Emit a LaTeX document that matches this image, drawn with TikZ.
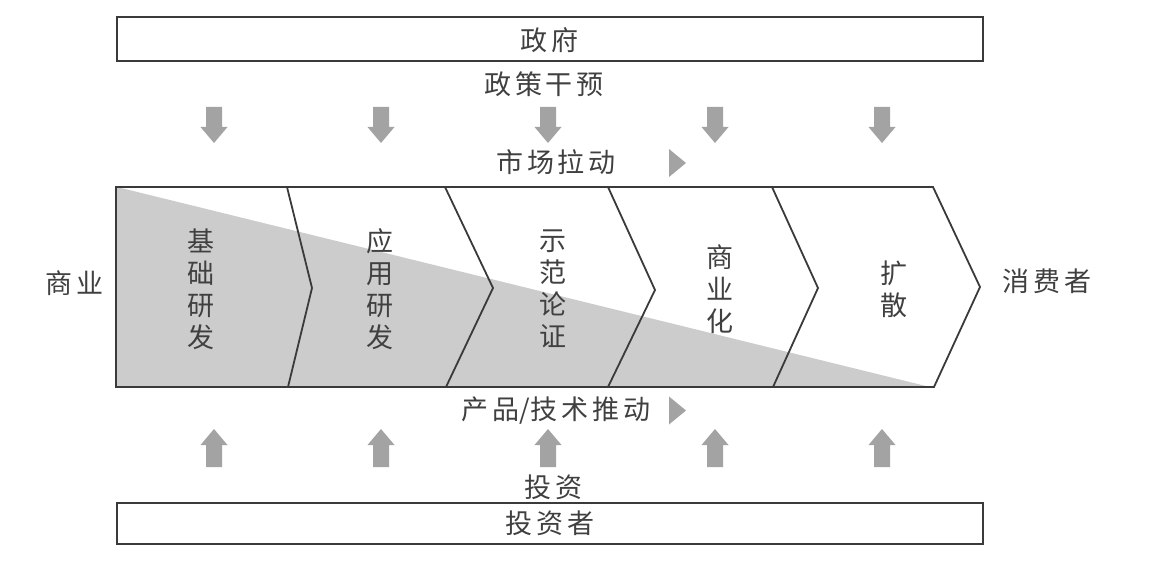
\documentclass[tikz,border=0pt]{standalone}
\usepackage{fontspec}
\newfontfamily\cjk{Noto Sans CJK SC}
\definecolor{txt}{HTML}{404040}
\definecolor{edge}{HTML}{3A3A3A}
\definecolor{shade}{HTML}{CCCCCC}
\definecolor{arr}{HTML}{A3A3A3}
\newcommand\cg{\hspace{4pt}}
\begin{document}
\begin{tikzpicture}[x=1pt,y=-1pt,
  lbl/.style={font=\cjk\fontsize{27}{32}\selectfont, text=txt, inner sep=0pt, anchor=center},
  vlbl/.style={lbl, align=center},
  bandbox/.style={draw=edge, line width=2pt},
  chevline/.style={draw=edge, line width=1.8pt, line join=miter},
  arrowshape/.style={fill=arr, draw=none},
  pics/downarrow/.style={code={
    \path[arrowshape] (-8,0) -- (8,0) -- (8,20) -- (13.5,20) -- (0,36) -- (-13.5,20) -- (-8,20) -- cycle;}},
  pics/uparrow/.style={code={
    \path[arrowshape] (-8,0) -- (8,0) -- (8,-22) -- (13.5,-22) -- (0,-38) -- (-13.5,-22) -- (-8,-22) -- cycle;}},
  pics/righttri/.style={code={
    \path[arrowshape] (0,-14) -- (17,0) -- (0,14) -- cycle;}}
]
\useasboundingbox (0,0) rectangle (1156,569);

% top and bottom boxes
\node[bandbox, minimum width=866pt, minimum height=44pt, inner sep=0pt] (gov) at (549.5,39) {};
\node[lbl] (govt) at (549,40) {政\cg 府};
\node[bandbox, minimum width=866pt, minimum height=41pt, inner sep=0pt] (inv) at (549.5,523.5) {};
\node[lbl] (invt) at (550,523.5) {投\cg 资\cg 者};

% shaded triangle
\path[fill=shade] (117,187) -- (930,387) -- (117,387) -- cycle;

% chevron band outline
\coordinate (tl) at (116,187);
\coordinate (bl) at (116,387);
\coordinate (tr) at (933,187);
\coordinate (tip) at (980,287);
\coordinate (br) at (934,387);
\path[chevline] (tl) -- (tr) -- (tip) -- (br) -- (bl) -- cycle;

% inner chevrons
\path[chevline] (287,187) -- (312,288) -- (288,387);
\path[chevline] (445,187) -- (493,288) -- (446,387);
\path[chevline] (608,187) -- (655,290) -- (608,387);
\path[chevline] (772,187) -- (818,288) -- (773,387);

% stage labels
\node[vlbl] (s1) at (201,289) {基\\础\\研\\发};
\node[vlbl] (s2) at (380,289) {应\\用\\研\\发};
\node[vlbl] (s3) at (553,289) {示\\范\\论\\证};
\node[vlbl] (s4) at (720,289) {商\\业\\化};
\node[vlbl] (s5) at (894,289) {扩\\散};

% side labels
\node[lbl] (biz) at (74.5,283.5) {商\cg 业};
\node[lbl] (cons) at (1047,281.5) {消\cg 费\cg 者};

% middle labels
\node[lbl] (policy) at (544,84.5) {政\cg 策\cg 干\cg 预};
\node[lbl] (pull) at (556,162.5) {市\cg 场\cg 拉\cg 动};
\node[lbl] (push) at (556,411) {产\cg 品/技\cg 术\cg 推\cg 动};
\node[lbl] (invest) at (553,487.5) {投\cg 资};

% small triangles
\pic at (669,163) {righttri};
\pic at (669,410.5) {righttri};

% arrows
\foreach \x in {214,381,548,715,882}{
  \pic at (\x,107) {downarrow};
  \pic at (\x,467) {uparrow};
}
\end{tikzpicture}
\end{document}
